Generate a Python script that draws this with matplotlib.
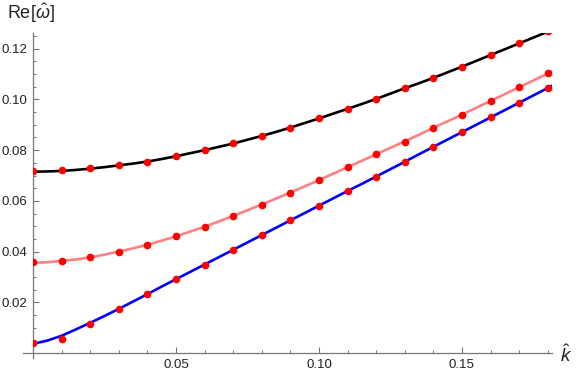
import numpy as np
import matplotlib
matplotlib.use("Agg")
import matplotlib.pyplot as plt
from matplotlib.lines import Line2D

plt.rcParams['font.family'] = ['Liberation Sans', 'DejaVu Sans']
plt.rcParams['mathtext.fontset'] = 'custom'
plt.rcParams['mathtext.rm'] = 'Liberation Sans'
plt.rcParams['mathtext.it'] = 'Liberation Sans:italic'

# sample points (red dots)
k_dots = [0.00, 0.01, 0.02, 0.03, 0.04, 0.05, 0.06, 0.07, 0.08, 0.09,
          0.10, 0.11, 0.12, 0.13, 0.14, 0.15, 0.16, 0.17, 0.18]
black_dots = [0.0719, 0.0722, 0.0730, 0.0741, 0.0755, 0.0776, 0.0800, 0.0827, 0.0856, 0.0889,
              0.0926, 0.0963, 0.1002, 0.1044, 0.1084, 0.1129, 0.1176, 0.1222, 0.1268]
pink_dots = [0.0360, 0.0364, 0.0377, 0.0400, 0.0427, 0.0460, 0.0498, 0.0542, 0.0585, 0.0632,
             0.0682, 0.0733, 0.0784, 0.0834, 0.0888, 0.0940, 0.0994, 0.1048, 0.1103]
blue_dots = [0.0038, 0.0054, 0.0116, 0.0175, 0.0233, 0.0291, 0.0348, 0.0406, 0.0465, 0.0523,
             0.0581, 0.0639, 0.0695, 0.0753, 0.0813, 0.0871, 0.0930, 0.0987, 0.1044]

# curves
k_line = [0.000, 0.005, 0.010, 0.015, 0.020, 0.025, 0.030, 0.035, 0.040, 0.045,
          0.050, 0.055, 0.060, 0.065, 0.070, 0.075, 0.080, 0.085, 0.090, 0.095,
          0.100, 0.105, 0.110, 0.115, 0.120, 0.125, 0.130, 0.135, 0.140, 0.145,
          0.150, 0.155, 0.160, 0.165, 0.170, 0.175, 0.180, 0.1815]
black_line = [0.0715, 0.0716, 0.0718, 0.0722, 0.0727, 0.0733, 0.0740, 0.0747, 0.0755, 0.0765,
              0.0776, 0.0788, 0.0800, 0.0813, 0.0826, 0.0841, 0.0856, 0.0872, 0.0889, 0.0907,
              0.0925, 0.0944, 0.0963, 0.0982, 0.1002, 0.1023, 0.1044, 0.1064, 0.1085, 0.1107,
              0.1129, 0.1152, 0.1175, 0.1198, 0.1221, 0.1244, 0.1267, 0.1274]
pink_line = [0.0356, 0.0358, 0.0363, 0.0369, 0.0377, 0.0388, 0.0400, 0.0413, 0.0427, 0.0443,
             0.0460, 0.0479, 0.0498, 0.0519, 0.0541, 0.0563, 0.0586, 0.0609, 0.0633, 0.0657,
             0.0682, 0.0707, 0.0733, 0.0758, 0.0784, 0.0809, 0.0835, 0.0861, 0.0888, 0.0914,
             0.0940, 0.0967, 0.0994, 0.1021, 0.1048, 0.1075, 0.1102, 0.1110]
blue_line = [0.0036, 0.0049, 0.0068, 0.0093, 0.0119, 0.0146, 0.0174, 0.0203, 0.0232, 0.0262,
             0.0291, 0.0320, 0.0349, 0.0378, 0.0407, 0.0436, 0.0465, 0.0494, 0.0523, 0.0552,
             0.0581, 0.0610, 0.0639, 0.0667, 0.0696, 0.0725, 0.0754, 0.0784, 0.0813, 0.0842,
             0.0871, 0.0900, 0.0929, 0.0958, 0.0987, 0.1016, 0.1045, 0.1054]

x_ticks = [0.05, 0.10, 0.15]
y_ticks = [0.02, 0.04, 0.06, 0.08, 0.10, 0.12]

fig = plt.figure(figsize=(5.85, 3.74), dpi=100)
ax = fig.add_axes([33/585, 1 - 353/374, (552 - 33)/585, (353 - 33)/374])

ax.plot(k_line, black_line, color='black', lw=1.9, zorder=2)
ax.plot(k_line, pink_line, color='#ff8080', lw=1.9, zorder=2)
ax.plot(k_line, blue_line, color='#0000ff', lw=1.9, zorder=2)
for ys in (black_dots, pink_dots, blue_dots):
    ax.plot(k_dots, ys, 'o', color='#ff0000', ms=5.5, mec='none', zorder=3)

ax.set_xlim(0, 0.1815)
ax.set_ylim(0, 0.1262)

for s in ax.spines.values():
    s.set_visible(False)

axis_col = '#777777'
# axes lines crossing slightly past the origin
ax.add_line(Line2D([-0.02, 1.0], [0, 0], transform=ax.transAxes, color=axis_col,
                   lw=0.9, clip_on=False))
ax.add_line(Line2D([0, 0], [-0.016, 1.0], transform=ax.transAxes, color=axis_col,
                   lw=0.9, clip_on=False))

ax.set_xticks(x_ticks)
ax.set_xticklabels(['0.05', '0.10', '0.15'])
ax.set_yticks(y_ticks)
ax.set_yticklabels(['0.02', '0.04', '0.06', '0.08', '0.10', '0.12'])
ax.set_xticks(np.arange(0.01, 0.181, 0.01), minor=True)
ax.set_yticks(np.arange(0.005, 0.126, 0.005), minor=True)
ax.tick_params(which='major', direction='in', length=4.5, width=0.8, color=axis_col,
               labelsize=9.5, labelcolor='#222222', pad=4)
ax.tick_params(which='minor', direction='in', length=2.5, width=0.7, color=axis_col)

fig.text(7/585, 1 - 13/374, r'Re[$\hat{\omega}$]', fontsize=13, color='#222222',
         ha='left', va='center')
fig.text(566/585, 1 - 355/374, r'$\hat{k}$', fontsize=13.5, color='#222222',
         ha='center', va='center')

fig.savefig('out.png', dpi=100)
